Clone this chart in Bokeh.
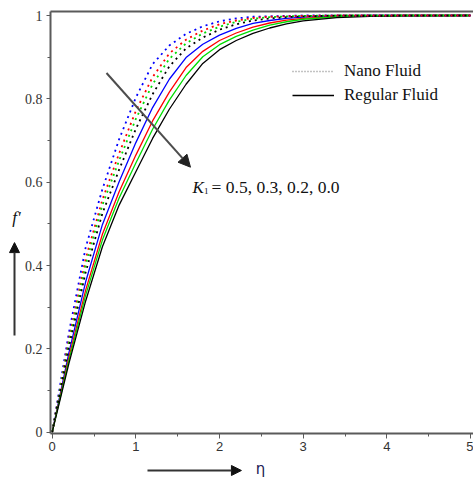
from bokeh.plotting import figure
from bokeh.models import (Range1d, LinearAxis, FixedTicker, Arrow, NormalHead,
                          Label, Legend, LegendItem)
from bokeh.embed import file_html
from bokeh.resources import INLINE

eta = [0, 0.2, 0.4, 0.6, 0.8, 1.0, 1.2, 1.4, 1.6, 1.8, 2.0, 2.2, 2.4, 2.6, 2.8, 3.0, 3.4, 3.8, 4.2, 5.0]

reg_k00 = [0, .165, .315, .445, .545, .625, .705, .775, .835, .885, .918, .940, .957, .970, .980, .987, .995, .998, .999, 1.0]
reg_k02 = [0, .173, .329, .461, .562, .646, .727, .797, .856, .901, .930, .950, .965, .977, .985, .991, .997, .999, 1.0, 1.0]
reg_k03 = [0, .180, .341, .475, .577, .665, .747, .816, .875, .914, .940, .958, .972, .982, .989, .993, .998, .999, 1.0, 1.0]
reg_k05 = [0, .191, .361, .498, .601, .695, .779, .847, .899, .931, .953, .969, .981, .988, .993, .996, .999, 1.0, 1.0, 1.0]

nano_k00 = [0, .205, .384, .525, .630, .728, .811, .878, .921, .947, .966, .979, .988, .993, .996, .998, 1.0, 1.0, 1.0, 1.0]
nano_k02 = [0, .215, .402, .545, .652, .752, .835, .896, .933, .957, .973, .985, .992, .996, .998, .999, 1.0, 1.0, 1.0, 1.0]
nano_k03 = [0, .223, .416, .558, .669, .771, .852, .909, .942, .964, .979, .988, .994, .997, .998, .999, 1.0, 1.0, 1.0, 1.0]
nano_k05 = [0, .239, .443, .583, .703, .803, .883, .928, .956, .974, .986, .993, .997, .998, .999, 1.0, 1.0, 1.0, 1.0, 1.0]

colors = ["#0000ff", "#ff0000", "#00dd00", "#000000"]  # K1 = 0.5, 0.3, 0.2, 0.0
nano_series = [nano_k05, nano_k03, nano_k02, nano_k00]
reg_series = [reg_k05, reg_k03, reg_k02, reg_k00]

x_ticks = [0, 1, 2, 3, 4, 5]
x_minor = [0.5, 1.5, 2.5, 3.5, 4.5]
y_ticks = [0, 0.2, 0.4, 0.6, 0.8, 1]
y_minor = [0.1, 0.3, 0.5, 0.7, 0.9]
legend_labels = ["Nano Fluid", "Regular Fluid"]
k_text = "= 0.5, 0.3, 0.2, 0.0"

AX = "#5a5a5a"
SERIF = "Liberation Serif"
NAN = float("nan")

# frame covers the whole canvas; axes are placed at fixed locations inside it
XB = (-0.0203, 5.036)
YB = (-0.0031, 1.0096)
p = figure(width=473, height=480, output_backend="svg", toolbar_location=None,
           x_range=Range1d(-0.618, 5.036), y_range=Range1d(-0.1159, 1.036),
           min_border=0, x_axis_type=None, y_axis_type=None)
p.outline_line_color = None
p.xgrid.visible = False
p.ygrid.visible = False
p.background_fill_color = "white"
p.border_fill_color = "white"

for ys, c in zip(reg_series, colors):
    p.line(eta, ys, line_color=c, line_width=1.3)
for ys, c in zip(nano_series, colors):
    p.line(eta, ys, line_color=c, line_width=1.8, line_dash="2 4")

xa = LinearAxis(ticker=FixedTicker(ticks=x_ticks, minor_ticks=x_minor),
                fixed_location=YB[0], bounds=XB,
                axis_line_color=AX, axis_line_width=2,
                major_tick_line_color=AX, minor_tick_line_color=AX,
                major_tick_in=0, major_tick_out=5, minor_tick_in=0, minor_tick_out=3,
                major_label_text_font="Liberation Sans", major_label_text_font_size="13px",
                major_label_text_color="#333333", major_label_standoff=4)
p.add_layout(xa, "below")

ya = LinearAxis(ticker=FixedTicker(ticks=y_ticks, minor_ticks=y_minor),
                fixed_location=XB[0], bounds=YB,
                axis_line_color=AX, axis_line_width=2,
                major_tick_line_color=AX, minor_tick_line_color=AX,
                major_tick_in=0, major_tick_out=4, minor_tick_in=0, minor_tick_out=3,
                major_label_text_font=SERIF, major_label_text_font_size="14px",
                major_label_text_color="#333333", major_label_standoff=4)
p.add_layout(ya, "left")

top = LinearAxis(ticker=FixedTicker(ticks=[]), fixed_location=YB[1], bounds=XB,
                 axis_line_color=AX, axis_line_width=2,
                 major_tick_line_color=None, minor_tick_line_color=None,
                 major_label_text_font_size="0px")
p.add_layout(top, "above")

# legend (sample renderers hold no visible points)
r_nano = p.line(x=[NAN], y=[NAN], line_color="#888888", line_width=1.5, line_dash="1 2")
r_reg = p.line(x=[NAN], y=[NAN], line_color="#000000", line_width=1.3)
leg = Legend(items=[LegendItem(label=legend_labels[0], renderers=[r_nano]),
                    LegendItem(label=legend_labels[1], renderers=[r_reg])],
             location=(292, 375), padding=0, margin=0, spacing=4,
             glyph_width=42, glyph_height=20, label_height=20, label_standoff=10,
             label_text_font=SERIF, label_text_font_size="17px",
             label_text_color="#111111",
             border_line_color=None, background_fill_alpha=0)
p.add_layout(leg)

# arrow across the curves
p.add_layout(Arrow(x_start=0.649, y_start=0.862, x_end=1.653, y_end=0.636,
                   line_color="#4d4d4d", line_width=2,
                   end=NormalHead(size=12, fill_color="#222222", line_color="#222222")))

p.add_layout(Label(x=1.745, y=0.588, text="K", text_font=SERIF, text_font_style="italic",
                   text_font_size="17px", text_baseline="middle", text_align="center",
                   text_color="#111111"))
p.add_layout(Label(x=1.840, y=0.578, text="1", text_font=SERIF,
                   text_font_size="9px", text_baseline="middle", text_align="center",
                   text_color="#111111"))
p.add_layout(Label(x=1.905, y=0.588, text=k_text, text_font=SERIF,
                   text_font_size="17.5px", text_baseline="middle", text_align="left",
                   text_color="#111111"))

# axis titles with arrows
p.add_layout(Arrow(x_start=-0.4506, y_start=0.232, x_end=-0.4506, y_end=0.455,
                   line_color="#333333", line_width=2,
                   end=NormalHead(size=10, fill_color="#111111", line_color="#111111")))
p.add_layout(Arrow(x_start=1.139, y_start=-0.0919, x_end=2.262, y_end=-0.0919,
                   line_color="#333333", line_width=2,
                   end=NormalHead(size=10, fill_color="#111111", line_color="#111111")))
p.add_layout(Label(x=-0.4267, y=0.515, text="f'",
                   text_font=SERIF, text_font_style="italic", text_font_size="17px",
                   text_baseline="middle", text_align="center", text_color="#111111"))
p.add_layout(Label(x=2.49, y=-0.0895, text="η",
                   text_font="DejaVu Sans", text_font_size="15px",
                   text_baseline="middle", text_align="center", text_color="#222255"))

open("out.html", "w").write(file_html(p, INLINE))
